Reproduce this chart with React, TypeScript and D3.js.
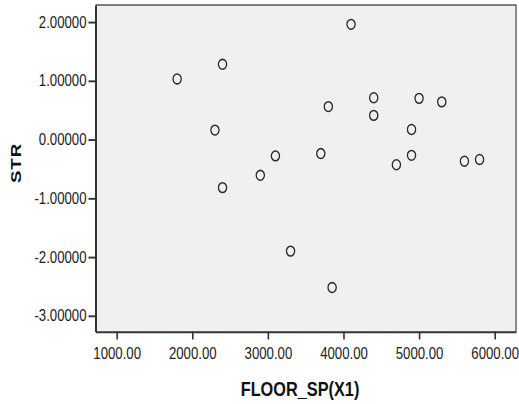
import React, { useEffect, useRef } from 'react';
import * as d3 from 'd3';

// floor space (X1) vs standardized residual (STR)
const floorSp = [1800, 2300, 2400, 2400, 2900, 3100, 3300, 3700, 3800, 3850,
                 4100, 4400, 4400, 4700, 4900, 4900, 5000, 5300, 5600, 5800];
const str = [1.03, 0.16, 1.28, -0.82, -0.61, -0.28, -1.90, -0.24, 0.56, -2.52,
             1.96, 0.71, 0.41, -0.43, 0.17, -0.27, 0.70, 0.64, -0.37, -0.34];

const xTicks = [1000, 2000, 3000, 4000, 5000, 6000];
const yTicks = [-3, -2, -1, 0, 1, 2];

// the reference picture is stretched vertically, so draw in squeezed units
const K = 1.2;
const W = 519;
const H = 404 / K;
const p = { left: 95.5, right: 516, top: 5 / K, bottom: 331.7 / K };

const FONT = 'Arial, "Liberation Sans", sans-serif';

export default function App() {
  const ref = useRef<SVGSVGElement>(null);

  useEffect(() => {
    const svg = d3.select(ref.current);
    svg.selectAll('*').remove();

    const x = d3.scaleLinear().domain([720, 6282]).range([p.left, p.right]);
    const y = d3.scaleLinear().domain([-3.272, 2.289]).range([p.bottom, p.top]);

    //plot background
    svg.append('rect')
       .attr('x', p.left)
       .attr('y', p.top)
       .attr('width', p.right - p.left)
       .attr('height', p.bottom - p.top)
       .attr('fill', '#f0f0f0');

    //top and right frame
    svg.append('path')
       .attr('d', `M${p.left},${p.top}H${p.right}V${p.bottom}`)
       .attr('fill', 'none')
       .attr('stroke', '#555')
       .attr('stroke-width', 1.3);

    let gy = svg.append('g')
                .attr('transform', `translate(${p.left},0)`)
                .call(d3.axisLeft(y)
                        .tickValues(yTicks)
                        .tickSize(7)
                        .tickSizeOuter(0)
                        .tickPadding(2)
                        .tickFormat(d => (+d).toFixed(5)));

    let gx = svg.append('g')
                .attr('transform', `translate(0,${p.bottom})`)
                .call(d3.axisBottom(x)
                        .tickValues(xTicks)
                        .tickSize(6.5)
                        .tickSizeOuter(0)
                        .tickPadding(7)
                        .tickFormat(d => (+d).toFixed(2)));

    [gx, gy].forEach(g => {
      g.attr('font-family', FONT).attr('font-size', 13.2);
      g.selectAll('text').attr('fill', '#222');
      g.selectAll('line').attr('stroke', '#333').attr('stroke-width', 1.6);
    });
    gy.select('.domain').attr('stroke', '#333').attr('stroke-width', 2);
    gx.select('.domain').attr('stroke', '#333').attr('stroke-width', 1.6);

    //points
    svg.append('g')
       .selectAll('circle')
       .data(floorSp)
       .enter()
       .append('circle')
       .attr('cx', d => x(d))
       .attr('cy', (d, i) => y(str[i]))
       .attr('r', 4.1)
       .attr('fill', 'none')
       .attr('stroke', '#2a2a2a')
       .attr('stroke-width', 1.3);

    //axis titles
    svg.append('text')
       .attr('transform', `translate(21,${163 / K}) rotate(-90)`)
       .attr('text-anchor', 'middle')
       .attr('font-family', FONT)
       .attr('font-weight', 'bold')
       .attr('font-size', 15.5)
       .attr('letter-spacing', 0.8)
       .attr('fill', '#111')
       .text('STR');

    svg.append('text')
       .attr('x', 300)
       .attr('y', 396.5 / K)
       .attr('text-anchor', 'middle')
       .attr('font-family', FONT)
       .attr('font-weight', 'bold')
       .attr('font-size', 16.3)
       .attr('fill', '#111')
       .text('FLOOR_SP(X1)');
  }, []);

  return (
    <svg ref={ref}
         width={519}
         height={404}
         viewBox={`0 0 ${W} ${H}`}
         preserveAspectRatio="none"
         style={{ position: 'absolute', left: 0, top: 0, display: 'block', background: '#fff' }} />
  );
}
